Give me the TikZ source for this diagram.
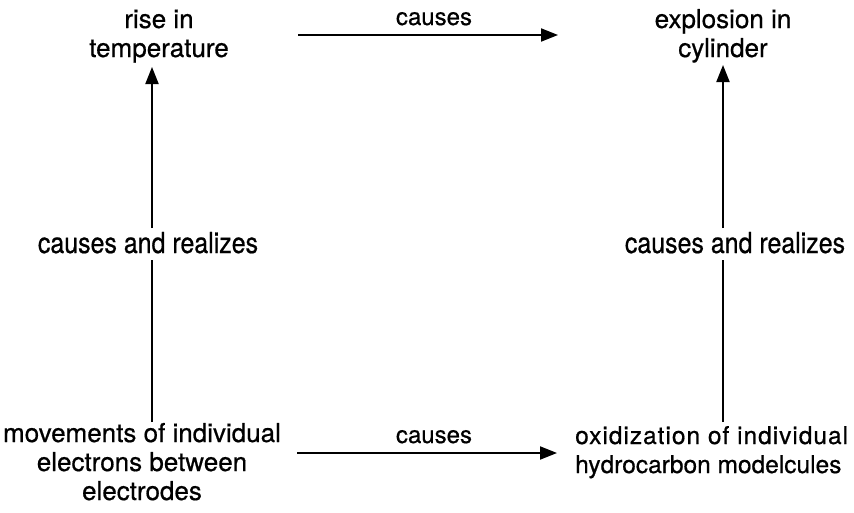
\documentclass[tikz,border=0pt]{standalone}
\usepackage{fontspec}
\setmainfont[FakeBold=0.6]{TeX Gyre Heros}
\newfontfamily\condfont[FakeStretch=0.86,FakeBold=0.6]{TeX Gyre Heros}
\newfontfamily\widefont[LetterSpace=4,FakeBold=0.6]{TeX Gyre Heros}
\usetikzlibrary{arrows.meta}
\begin{document}
\begin{tikzpicture}[x=1pt,y=-1pt,
  stmt/.style={inner sep=0pt, font=\fontsize{26}{29}\selectfont},
  rel/.style={inner sep=0pt, font=\fontsize{24}{27}\selectfont},
  rellbl/.style={inner sep=0pt, font=\condfont\fontsize{29}{32}\selectfont},
  conn/.style={line width=2pt, black},
  arr/.style={conn, -{Triangle[length=17pt,width=13pt]}}]
\useasboundingbox[fill=white] (0,0) rectangle (854,512);
% statements (base anchor = baseline of last line)
\node[stmt, align=center, anchor=base] (temp) at (159,57) {rise in\\temperature};
\node[stmt, align=center, anchor=base] (expl) at (723,57) {explosion in\\cylinder};
\node[stmt, align=center, anchor=base] (move) at (142,500) {movements of individual\\electrons between\\electrodes};
\node[stmt, font=\fontsize{24.5}{29}\selectfont, align=left, anchor=base west] (oxid) at (575,473) {{\widefont oxidization of individual}\\hydrocarbon modelcules};
% relation labels
\node[rel, anchor=base] (c1) at (434,25) {causes};
\node[rel, anchor=base] (c2) at (434,443) {causes};
\node[rellbl, anchor=base] (r1) at (148,253) {causes and realizes};
\node[rellbl, anchor=base] (r2) at (735,253) {causes and realizes};
% connector end points
\coordinate (h1s) at (298,35);  \coordinate (h1e) at (558,35);
\coordinate (h2s) at (297,453); \coordinate (h2e) at (557,453);
\coordinate (v1s) at (152,422); \coordinate (v1a) at (152,260);
\coordinate (v1b) at (152,228); \coordinate (v1e) at (152,67);
\coordinate (v2s) at (723,422); \coordinate (v2a) at (723,260);
\coordinate (v2b) at (723,228); \coordinate (v2e) at (723,65);
% connectors
\draw[arr] (h1s) -- (h1e);
\draw[arr] (h2s) -- (h2e);
\draw[conn] (v1s) -- (v1a);
\draw[arr] (v1b) -- (v1e);
\draw[conn] (v2s) -- (v2a);
\draw[arr] (v2b) -- (v2e);
\end{tikzpicture}
\end{document}
